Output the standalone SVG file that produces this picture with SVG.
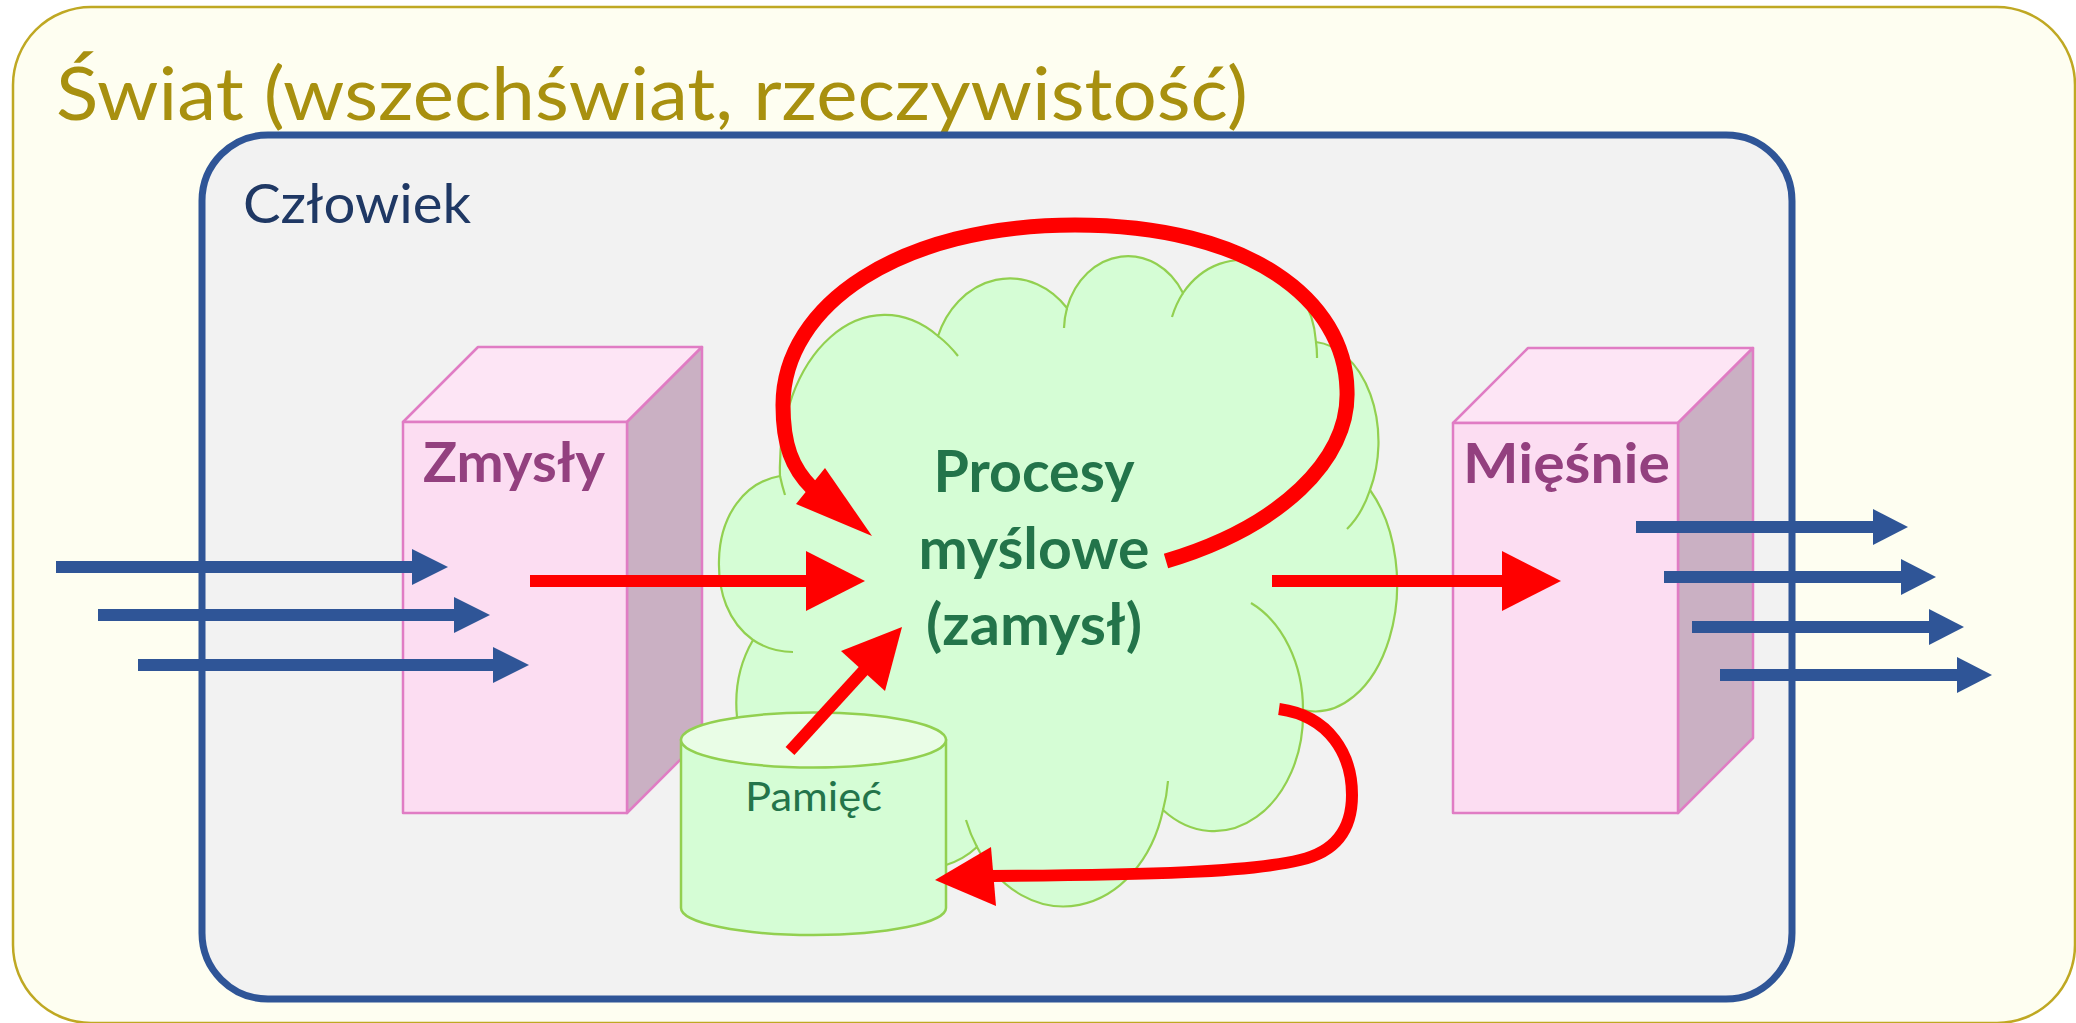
<svg xmlns="http://www.w3.org/2000/svg" width="2076" height="1023" viewBox="0 0 2076 1023">
<style>
.world{fill:#FEFEF1;stroke:#BFA823;stroke-width:2.5}
.title{font-family:Lato,"Open Sans","DejaVu Sans",sans-serif;font-size:74px;fill:#A8900F}
.human{fill:#F2F2F2;stroke:#2F5597;stroke-width:7}
.htext{font-family:Lato,"Open Sans","DejaVu Sans",sans-serif;font-size:54px;fill:#1F3864}
.front{fill:#FCDDF2;stroke:#E07CC4;stroke-width:2.5;stroke-linejoin:round}
.top{fill:#FDE5F5;stroke:#E07CC4;stroke-width:2.5;stroke-linejoin:round}
.side{fill:#CAB0C3;stroke:#E07CC4;stroke-width:2.5;stroke-linejoin:round}
.boxlabel{font-family:Lato,"Open Sans","DejaVu Sans",sans-serif;font-weight:bold;font-size:56px;fill:#93407F}
.cloud{fill:#D5FDD5;stroke:#92D050;stroke-width:2.2}
.cloudin{fill:none;stroke:#92D050;stroke-width:2.2}
.ctext{font-family:Lato,"Open Sans","DejaVu Sans",sans-serif;font-weight:bold;font-size:58px;fill:#23744A}
.cyl{fill:#D5FDD5;stroke:#92D050;stroke-width:2.5}
.cyltop{fill:#E9FDE6;stroke:#92D050;stroke-width:2.5}
.mtext{font-family:Lato,"Open Sans","DejaVu Sans",sans-serif;font-size:40px;fill:#23744A}
.red{fill:none;stroke:#FF0000;stroke-linecap:butt}
.redhead{fill:#FF0000}
.blue{fill:none;stroke:#2F5597;stroke-width:12}
.bluehead{fill:#2F5597}
</style>

<g id="swiat">
<rect class="world" x="13" y="7" width="2062" height="1016" rx="78" ry="78"/>
<text class="title" x="56" y="120" textLength="1192" lengthAdjust="spacingAndGlyphs">Świat (wszechświat, rzeczywistość)</text>
</g>

<g id="czlowiek">
<rect class="human" x="202" y="135" width="1590" height="864" rx="66" ry="66"/>
<text class="htext" x="243" y="223" textLength="228" lengthAdjust="spacingAndGlyphs">Człowiek</text>
</g>

<g id="zmysly">
<polygon class="top" points="403,422 478,347 702,347 627,422"/>
<polygon class="side" points="627,422 702,347 702,738 627,813"/>
<rect class="front" x="403" y="422" width="224" height="391"/>
<text class="boxlabel" x="423" y="482" textLength="182" lengthAdjust="spacingAndGlyphs">Zmysły</text>
</g>

<g id="miesnie">
<polygon class="top" points="1453,423 1528,348 1753,348 1678,423"/>
<polygon class="side" points="1678,423 1753,348 1753,738 1678,813"/>
<rect class="front" x="1453" y="423" width="225" height="390"/>
<text class="boxlabel" x="1463" y="483" textLength="207" lengthAdjust="spacingAndGlyphs">Mięśnie</text>
</g>

<g id="procesy">
<path class="cloud" d="M753,640 C728,622 718,592 719,560 C720,515 745,482 780,476 A105,153 0 0 1 938,336 A77,90 0 0 1 1067,308 A64,75 0 0 1 1183,293 A75,89 0 0 1 1316,342 A68,100 0 0 1 1370,490 A82,127 0 0 1 1303,710 A89,117 0 0 1 1163,810 A103,130 0 0 1 977,847 A80,80 0 0 1 946,865 L920,900 L760,900 L737,760 L737,717 A90,110 0 0 1 753,640 Z"/>
<path class="cloudin" d="M780,476 A105,153 0 0 0 785,495 M753,640 C765,648 778,652 793,652 M938,336 A105,153 0 0 1 958,356 M1067,308 A64,75 0 0 0 1064,328 M1183,293 A75,89 0 0 0 1172,317 M1316,342 A75,89 0 0 1 1317,358 M1370,490 A68,100 0 0 1 1347,529 M1303,710 A89,117 0 0 0 1251,603 M1163,810 A103,130 0 0 0 1168,781 M977,847 A103,130 0 0 1 966,820"/>
<text class="ctext" text-anchor="middle" x="1034" y="492" textLength="201" lengthAdjust="spacingAndGlyphs">Procesy</text>
<text class="ctext" text-anchor="middle" x="1034" y="569" textLength="231" lengthAdjust="spacingAndGlyphs">myślowe</text>
<text class="ctext" text-anchor="middle" x="1034" y="645" textLength="216" lengthAdjust="spacingAndGlyphs">(zamysł)</text>
</g>

<g id="pamiec">
<path class="cyl" d="M681,740 V908 A132.5,27 0 0 0 946,908 V740 Z"/>
<ellipse class="cyltop" cx="813.5" cy="740" rx="132.5" ry="27.5"/>
<text class="mtext" x="745" y="811" textLength="137" lengthAdjust="spacingAndGlyphs">Pamięć</text>
</g>

<g id="connectors">
<path class="red" stroke-width="12" d="M530,581 H808"/>
<polygon class="redhead" points="806,551 865,581 806,611"/>
<path class="red" stroke-width="12" d="M1272,581 H1504"/>
<polygon class="redhead" points="1502,551 1561,581 1502,611"/>
<path class="red" stroke-width="15" d="M1166,561 C1280,527 1350,460 1347,390 C1345,300 1250,225 1075,225 C900,225 783,305 783,405 C783,445 792,468 812,488"/>
<polygon class="redhead" points="872,536 796,504 825,468"/>
<path class="red" stroke-width="12" d="M790,751 L865,669"/>
<polygon class="redhead" points="902,627 841,651 885,691"/>
<path class="red" stroke-width="12" d="M1279,709 C1330,716 1352,755 1352,795 C1352,830 1335,852 1300,860 C1250,872 1150,875 991,876"/>
<polygon class="redhead" points="935,880 991,847 996,906"/>
<path class="blue" d="M56,567 H414"/>
<polygon class="bluehead" points="412,549 448,567 412,585"/>
<path class="blue" d="M98,615 H456"/>
<polygon class="bluehead" points="454,597 490,615 454,633"/>
<path class="blue" d="M138,665 H495"/>
<polygon class="bluehead" points="493,647 529,665 493,683"/>
<path class="blue" d="M1636,527 H1875"/>
<polygon class="bluehead" points="1873,509 1908,527 1873,545"/>
<path class="blue" d="M1664,577 H1903"/>
<polygon class="bluehead" points="1901,559 1936,577 1901,595"/>
<path class="blue" d="M1692,627 H1931"/>
<polygon class="bluehead" points="1929,609 1964,627 1929,645"/>
<path class="blue" d="M1720,675 H1959"/>
<polygon class="bluehead" points="1957,657 1992,675 1957,693"/>
</g>
</svg>
